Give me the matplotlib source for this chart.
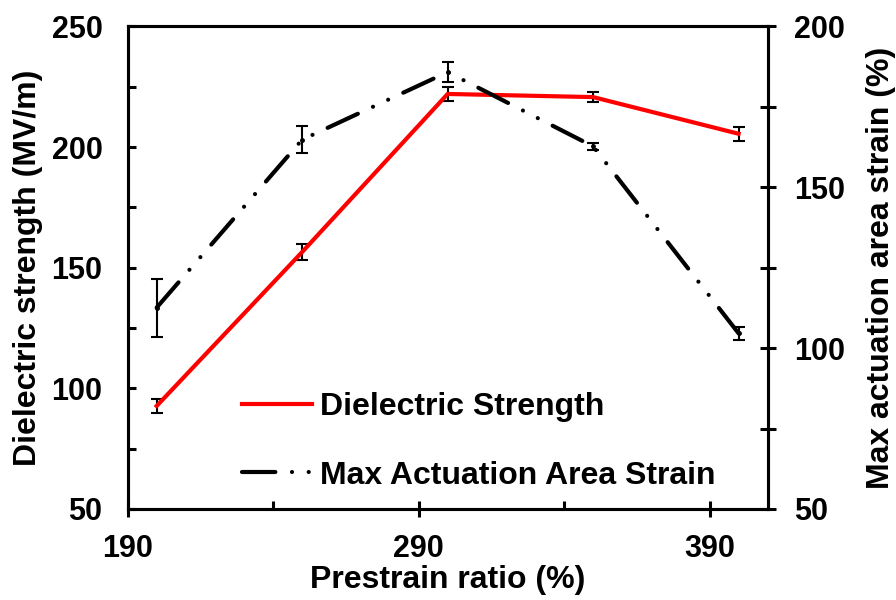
import matplotlib
matplotlib.use("Agg")
import matplotlib.pyplot as plt
import matplotlib.ticker as mticker
from matplotlib.lines import Line2D

plt.rcParams["font.family"] = ["Liberation Sans", "DejaVu Sans"]
plt.rcParams["font.weight"] = "bold"

# data
prestrain = [200, 250, 300, 350, 400]
dielectric = [92.7, 156.5, 222.0, 220.7, 205.5]
dielectric_err = [3.0, 3.2, 3.0, 2.0, 3.0]
strain = [112.6, 164.8, 185.8, 162.7, 104.6]
strain_err = [9.0, 4.1, 3.0, 1.2, 2.1]

x_major = [190, 290, 390]
x_minor = [240, 340]

RED = "#ff0000"
BLACK = "#000000"
DASH_DOT_DOT = (0, (8, 4, 0.01, 4, 0.01, 4))
TICK_FS = 22
LABEL_FS = 23

fig = plt.figure(figsize=(8.96, 6.0), dpi=100)
ax = fig.add_axes([0.1424, 0.1517, 0.7144, 0.8043])
ax2 = ax.twinx()

# dielectric strength (left axis)
ax.errorbar(prestrain, dielectric, yerr=dielectric_err, fmt="none",
            ecolor=BLACK, elinewidth=1.5, capsize=4, capthick=1.5, zorder=2)
ax.plot(prestrain, dielectric, color=RED, linewidth=3, zorder=3)

# max actuation strain (right axis)
ax2.errorbar(prestrain, strain, yerr=strain_err, fmt="none",
             ecolor=BLACK, elinewidth=1.5, capsize=4, capthick=1.5, zorder=2)
ax2.plot(prestrain, strain, color=BLACK, linewidth=3,
         linestyle=DASH_DOT_DOT, dash_capstyle="round", zorder=3)
ax2.plot(prestrain, strain, linestyle="none", marker="o", markersize=2.5,
         color=BLACK, zorder=4)

ax.set_xlim(190, 410)
ax.set_ylim(50, 250)
ax2.set_ylim(50, 200)

ax.xaxis.set_major_locator(mticker.FixedLocator(x_major))
ax.xaxis.set_minor_locator(mticker.FixedLocator(x_minor))
ax.yaxis.set_major_locator(mticker.MultipleLocator(50))
ax.yaxis.set_minor_locator(mticker.MultipleLocator(25))
ax2.yaxis.set_major_locator(mticker.MultipleLocator(50))
ax2.yaxis.set_minor_locator(mticker.MultipleLocator(25))

for a in (ax, ax2):
    for sp in a.spines.values():
        sp.set_linewidth(2.2)

ax.tick_params(axis="x", which="major", direction="inout", length=12, width=2.2,
               labelsize=TICK_FS, pad=12)
ax.tick_params(axis="x", which="minor", direction="in", length=6, width=2.2)
ax.tick_params(axis="y", which="both", direction="in", length=6, width=2.2,
               labelsize=TICK_FS, pad=18)
ax2.tick_params(axis="y", which="both", direction="inout", length=12, width=2.2,
                labelsize=TICK_FS, pad=13)

ax.set_xlabel("Prestrain ratio (%)", fontsize=LABEL_FS, fontweight="bold",
              labelpad=1)
ax.set_ylabel("Dielectric strength (MV/m)", fontsize=LABEL_FS,
              fontweight="bold", labelpad=6)
ax2.set_ylabel("Max actuation area strain (%)", fontsize=LABEL_FS,
               fontweight="bold", rotation=90, labelpad=15)

handles = [
    Line2D([], [], color=RED, linewidth=3),
    Line2D([], [], color=BLACK, linewidth=3, linestyle=DASH_DOT_DOT,
           dash_capstyle="round"),
]
ax2.legend(handles, ["Dielectric Strength", "Max Actuation Area Strain"],
           loc="upper left", bbox_to_anchor=(0.179, 0.242), frameon=False,
           borderpad=0, borderaxespad=0, handlelength=2.2,
           handletextpad=0.25, labelspacing=1.2,
           prop={"weight": "bold", "size": LABEL_FS})

fig.savefig("out.png", dpi=100)
